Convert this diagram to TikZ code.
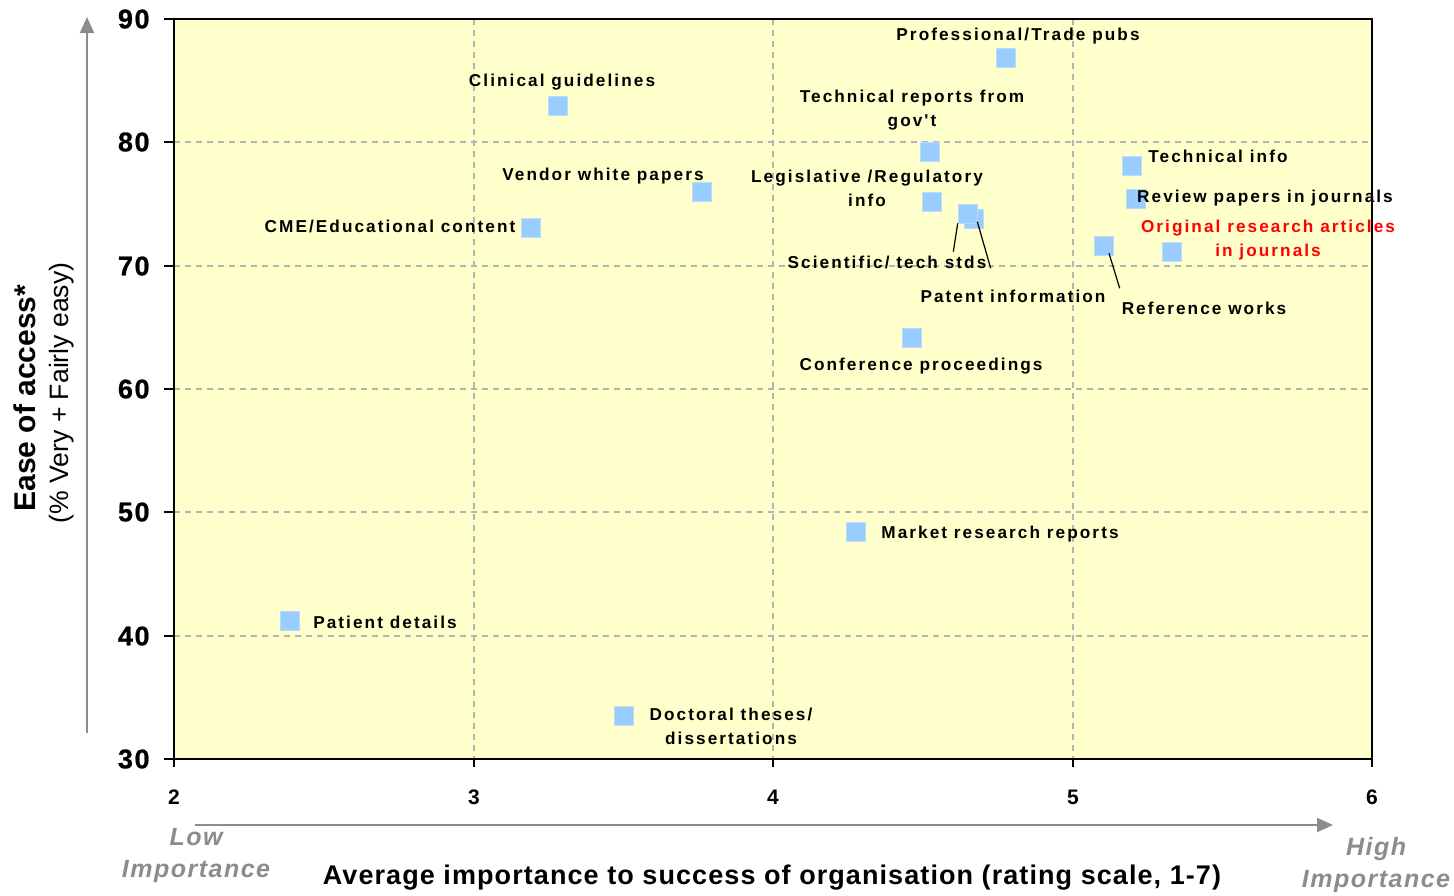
\documentclass[tikz,border=0pt]{standalone}
\usepackage{fontspec}
\setmainfont{Liberation Sans}
\newfontfamily\lblfont{Liberation Sans}[LetterSpace=12]
\newfontfamily\tickfont{Liberation Sans}[LetterSpace=6, FakeBold=0.8]
\newfontfamily\titlefont{Liberation Sans}[LetterSpace=4]
\newfontfamily\impfont{Liberation Sans}[LetterSpace=6]
\usetikzlibrary{arrows.meta}
\definecolor{bgyellow}{HTML}{FFFFCC}
\definecolor{mkblue}{HTML}{99CCFF}
\definecolor{gridgrey}{HTML}{B4B4B4}
\definecolor{arrgrey}{HTML}{8C8C8C}
\definecolor{lowgrey}{HTML}{8C8C8C}
\tikzset{
  mk/.style={rectangle, minimum size=9.5pt, inner sep=0pt, fill=mkblue, draw=mkblue!70!white, line width=0.4pt},
  lbl/.style={font=\lblfont\bfseries\fontsize{8.6}{12}\selectfont, inner sep=0pt, align=center, text=black},
  redlbl/.style={lbl, text=red},
  ytick/.style={font=\tickfont\bfseries\fontsize{13.5}{14}\selectfont, anchor=east, inner sep=0pt},
  xtick/.style={font=\bfseries\fontsize{10.5}{12}\selectfont, inner sep=0pt},
  gridline/.style={draw=gridgrey, line width=1pt, dash pattern=on 3pt off 2.5pt},
  leader/.style={draw=black, line width=0.6pt},
  bigarrow/.style={draw=arrgrey, line width=1pt, -{Triangle[length=8pt, width=7pt]}},
  imp/.style={font=\impfont\bfseries\itshape\fontsize{12.5}{16}\selectfont, text=lowgrey, inner sep=0pt, align=center},
}
\begin{document}
\begin{tikzpicture}[x=0.5pt, y=-0.5pt]
\useasboundingbox (0,0) rectangle (1454,895);
% plot area
\fill[bgyellow] (174,19) rectangle (1372,759);
% grid
\foreach \gx in {474,773,1073} \draw[gridline] (\gx,19) -- (\gx,759);
\foreach \gy in {142,266,389,512,636} \draw[gridline] (174,\gy) -- (1372,\gy);
% frame
\draw[black, line width=0.8pt] (174,19) -- (1372,19) -- (1372,759);
\draw[black, line width=1.2pt] (174,19) -- (174,759) -- (1372,759);
% ticks
\foreach \gy in {19,142,266,389,512,636,759} \draw[black, line width=1pt] (164,\gy) -- (174,\gy);
\foreach \gx in {174,474,773,1073,1372} \draw[black, line width=1pt] (\gx,759) -- (\gx,767);
% y tick labels
\node[ytick] (y90) at (150,19) {90};
\node[ytick] (y80) at (150,142) {80};
\node[ytick] (y70) at (150,266) {70};
\node[ytick] (y60) at (150,389) {60};
\node[ytick] (y50) at (150,512) {50};
\node[ytick] (y40) at (150,636) {40};
\node[ytick] (y30) at (150,759) {30};
% x tick labels
\node[xtick] (x2) at (174,797) {2};
\node[xtick] (x3) at (474,797) {3};
\node[xtick] (x4) at (773,797) {4};
\node[xtick] (x5) at (1073,797) {5};
\node[xtick] (x6) at (1372,797) {6};
% axis arrows
\coordinate (ya0) at (87,733);
\coordinate (ya1) at (87,17);
\draw[bigarrow] (ya0) -- (ya1);
\coordinate (xa0) at (195,825);
\coordinate (xa1) at (1333,825);
\draw[bigarrow] (xa0) -- (xa1);
% axis titles
\node[font=\bfseries\fontsize{15}{16}\selectfont, rotate=90, inner sep=0pt] (ytitle) at (25,398) {Ease of access*};
\node[font=\fontsize{13.3}{14}\selectfont, rotate=90, inner sep=0pt] (ysub) at (62,393) {(\% Very + Fairly easy)};
\node[font=\titlefont\bfseries\fontsize{13.5}{14}\selectfont, inner sep=0pt] (xtitle) at (772,878) {Average importance to success of organisation (rating scale, 1-7)};
\node[imp] (low) at (196,855) {Low\\Importance};
\node[imp] (high) at (1376,865) {High\\Importance};
% markers
\node[mk] (m1) at (1006,58) {};
\node[mk] (m2) at (558,106) {};
\node[mk] (m3) at (930,152) {};
\node[mk] (m4) at (702,192) {};
\node[mk] (m5) at (932,202) {};
\node[mk] (m6) at (531,228) {};
\node[mk] (m8) at (974,219) {};
\node[mk] (m7) at (968,214) {};
\node[mk] (m9) at (1132,166) {};
\node[mk] (m10) at (1136,199) {};
\node[mk] (m11) at (1172,252) {};
\node[mk] (m12) at (1104,246) {};
\node[mk] (m13) at (912,338) {};
\node[mk] (m14) at (856,532) {};
\node[mk] (m15) at (290,621) {};
\node[mk] (m16) at (624,716) {};
% labels
\node[lbl] (t1) at (1018,36) {Professional/Trade pubs};
\node[lbl] (t2) at (562,82) {Clinical guidelines};
\node[lbl] (t3) at (912,110) {Technical reports from\\gov't};
\node[lbl] (t4) at (603,176) {Vendor white papers};
\node[lbl] (t5) at (867,188) {Legislative /Regulatory\\info};
\node[lbl] (t6) at (390,226) {CME/Educational content};
\node[lbl] (t7) at (887,262) {Scientific/ tech stds};
\node[lbl] (t8) at (1013,296) {Patent information};
\node[lbl] (t9) at (1218,156) {Technical info};
\node[lbl] (t10) at (1265,198) {Review papers in journals};
\node[redlbl] (t11) at (1268,240) {Original research articles\\in journals};
\node[lbl] (t12) at (1204,308) {Reference works};
\node[lbl] (t13) at (921,366) {Conference proceedings};
\node[lbl] (t14) at (1000,534) {Market research reports};
\node[lbl] (t15) at (385,622) {Patient details};
\node[lbl] (t16) at (731,726) {Doctoral theses/\\dissertations};
% leader lines
\coordinate (l7a) at (957.7,223.3);
\coordinate (l7b) at (953.3,251.7);
\draw[leader] (l7a) -- (l7b);
\coordinate (l8a) at (977.3,221.7);
\coordinate (l8b) at (990.7,268.3);
\draw[leader] (l8a) -- (l8b);
\coordinate (l12a) at (1109,253.3);
\coordinate (l12b) at (1119.7,288.3);
\draw[leader] (l12a) -- (l12b);
\end{tikzpicture}
\end{document}
